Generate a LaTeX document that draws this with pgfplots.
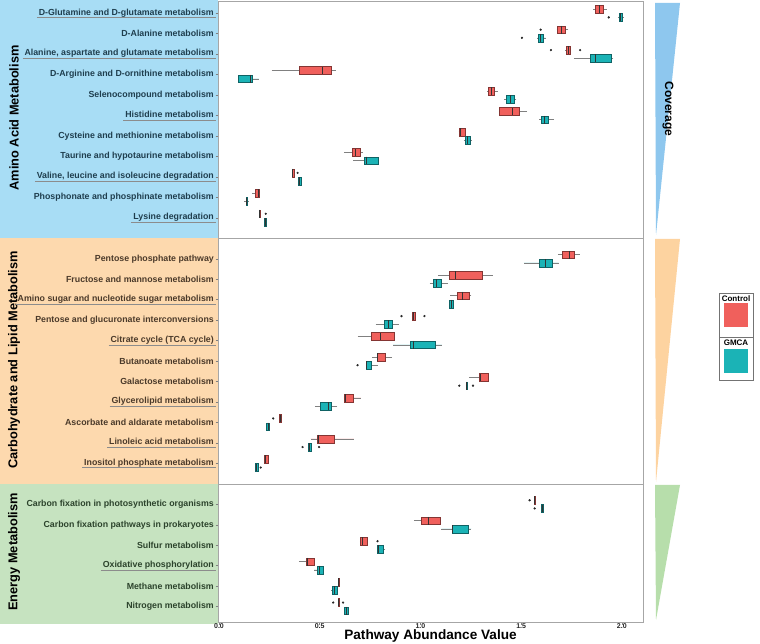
\documentclass[border=0pt]{standalone}
\usepackage{pgfplots}
\pgfplotsset{compat=1.18}
\usepgfplotslibrary{statistics}
\usepackage{fontspec}
\setmainfont{Liberation Sans}
\definecolor{ctrl}{HTML}{F0605C}
\definecolor{gmca}{HTML}{1BB3B6}
\definecolor{bgA}{HTML}{A8DDF5}
\definecolor{bgC}{HTML}{FDD9AE}
\definecolor{bgE}{HTML}{C6E3C0}
\definecolor{txA}{HTML}{1F3E4E}
\definecolor{txC}{HTML}{4B3A2A}
\definecolor{txE}{HTML}{2C432C}
\definecolor{covA}{HTML}{8EC7EE}
\definecolor{covC}{HTML}{FDD3A0}
\definecolor{covE}{HTML}{B7DEAB}
\newsavebox\ulbox
\newcommand{\ul}[1]{\sbox\ulbox{#1}\rlap{\hspace{-2pt}\textcolor{black!45}{\rule[-2.8pt]{\dimexpr\wd\ulbox+4pt\relax}{0.6pt}}}\usebox\ulbox}
\newcommand{\A}[1]{\textcolor{txA}{#1}}
\newcommand{\C}[1]{\textcolor{txC}{#1}}
\newcommand{\E}[1]{\textcolor{txE}{#1}}
\pgfplotsset{
  cstyle/.style={fill=ctrl, draw=ctrl!55!black, line width=0.4pt},
  gstyle/.style={fill=gmca, draw=gmca!55!black, line width=0.4pt},
  boxplot/draw direction=x,
  boxplot/box extend=0.38,
  boxplot/whisker extend=0,
  boxplot/every whisker/.style={draw=black!50, line width=0.5pt},
  boxplot/every median/.style={draw=black!80, line width=0.9pt},
}
% style, position, lower whisker, lower quartile, median, upper quartile, upper whisker
\newcommand{\bx}[7]{\addplot[#1, boxplot prepared={draw position=#2, lower whisker=#3, lower quartile=#4, median=#5, upper quartile=#6, upper whisker=#7}] coordinates {};}
\begin{document}
\begin{tikzpicture}
\path[use as bounding box] (0pt,0pt) rectangle (760pt,644pt);
\begin{scope}[x=1pt,y=1pt]
\fill[bgA] (0,644) rectangle (218,405.7);
\fill[bgC] (0,405.7) rectangle (218,160.1);
\fill[bgE] (0,160.1) rectangle (218,20);
\node[rotate=90, font=\bfseries\fontsize{12.8}{14}\selectfont] at (14,526) {Amino Acid Metabolism};
\node[rotate=90, font=\bfseries\fontsize{12.8}{14}\selectfont] at (14,284) {Carbohydrate and Lipid Metabolism};
\node[rotate=90, font=\bfseries\fontsize{12.8}{14}\selectfont] at (14,92) {Energy Metabolism};
\end{scope}
\begin{axis}[
  at={(218pt,22pt)}, anchor=south west,
  width=425pt, height=621pt, scale only axis,
  xmin=-0.005, xmax=2.105, ymin=0.4, ymax=30.75, y dir=reverse,
  clip=false,
  axis line style={draw=black!35, line width=0.6pt},
  xtick={0,0.5,1,1.5,2}, xticklabels={0.0,0.5,1.0,1.5,2.0},
  xticklabel style={font=\bfseries\fontsize{7}{8}\selectfont, text=black!85, yshift=4.5pt},
  ytick={1,2,3,4,5,6,7,8,9,10,11,13,14,15,16,17,18,19,20,21,22,23,25,26,27,28,29,30},
  yticklabels={
    {\A{\ul{D-Glutamine and D-glutamate metabolism}}},
    {\A{D-Alanine metabolism}},
    {\A{\ul{Alanine, aspartate and glutamate metabolism}}},
    {\A{D-Arginine and D-ornithine metabolism}},
    {\A{Selenocompound metabolism}},
    {\A{\ul{Histidine metabolism}}},
    {\A{Cysteine and methionine metabolism}},
    {\A{Taurine and hypotaurine metabolism}},
    {\A{\ul{Valine, leucine and isoleucine degradation}}},
    {\A{Phosphonate and phosphinate metabolism}},
    {\A{\ul{Lysine degradation}}},
    {\C{Pentose phosphate pathway}},
    {\C{Fructose and mannose metabolism}},
    {\C{\ul{Amino sugar and nucleotide sugar metabolism}}},
    {\C{Pentose and glucuronate interconversions}},
    {\C{\ul{Citrate cycle (TCA cycle)}}},
    {\C{Butanoate metabolism}},
    {\C{Galactose metabolism}},
    {\C{\ul{Glycerolipid metabolism}}},
    {\C{Ascorbate and aldarate metabolism}},
    {\C{\ul{Linoleic acid metabolism}}},
    {\C{\ul{Inositol phosphate metabolism}}},
    {\E{Carbon fixation in photosynthetic organisms}},
    {\E{Carbon fixation pathways in prokaryotes}},
    {\E{Sulfur metabolism}},
    {\E{\ul{Oxidative phosphorylation}}},
    {\E{Methane metabolism}},
    {\E{Nitrogen metabolism}}},
  yticklabel style={font=\bfseries\fontsize{8.8}{10}\selectfont, inner sep=1.5pt},
  tick align=outside, major tick length=2.5pt,
  tick style={draw=black!50, line width=0.5pt},
  xtick pos=bottom, ytick pos=left,
  xlabel={Pathway Abundance Value},
  xlabel style={at={(axis description cs:0.5,0)}, anchor=north, yshift=-7pt, inner sep=0pt, font=\bfseries\fontsize{13.6}{15}\selectfont},
]
\draw[black!35, line width=0.6pt] (axis cs:-0.005,12) -- (axis cs:2.105,12);
\draw[black!35, line width=0.6pt] (axis cs:-0.005,24) -- (axis cs:2.105,24);
% Amino acid metabolism
\bx{cstyle}{0.8}{1.859}{1.869}{1.889}{1.909}{1.924}
\bx{gstyle}{1.2}{1.980}{1.985}{1.993}{2.003}{2.010}
\bx{cstyle}{1.8}{1.676}{1.681}{1.700}{1.721}{1.735}
\bx{gstyle}{2.2}{1.580}{1.583}{1.596}{1.611}{1.621}
\bx{cstyle}{2.8}{1.718}{1.722}{1.734}{1.744}{1.748}
\bx{gstyle}{3.2}{1.762}{1.843}{1.869}{1.945}{1.958}
\bx{cstyle}{3.8}{0.261}{0.398}{0.512}{0.559}{0.579}
\bx{gstyle}{4.2}{0.096}{0.096}{0.155}{0.164}{0.198}
\bx{cstyle}{4.8}{1.330}{1.334}{1.352}{1.367}{1.383}
\bx{gstyle}{5.2}{1.414}{1.425}{1.446}{1.466}{1.476}
\bx{cstyle}{5.8}{1.390}{1.393}{1.459}{1.492}{1.530}
\bx{gstyle}{6.2}{1.591}{1.601}{1.616}{1.635}{1.664}
\bx{cstyle}{6.8}{1.190}{1.193}{1.200}{1.221}{1.225}
\bx{gstyle}{7.2}{1.215}{1.222}{1.232}{1.245}{1.255}
\bx{cstyle}{7.8}{0.620}{0.663}{0.679}{0.702}{0.716}
\bx{gstyle}{8.2}{0.666}{0.719}{0.732}{0.790}{0.790}
\bx{cstyle}{8.8}{0.362}{0.362}{0.367}{0.372}{0.372}
\bx{gstyle}{9.2}{0.393}{0.393}{0.400}{0.408}{0.408}
\bx{cstyle}{9.8}{0.165}{0.182}{0.196}{0.200}{0.200}
\bx{gstyle}{10.2}{0.125}{0.133}{0.137}{0.141}{0.149}
\bx{cstyle}{10.8}{0.200}{0.200}{0.203}{0.206}{0.206}
\bx{gstyle}{11.2}{0.226}{0.226}{0.230}{0.234}{0.234}
% Carbohydrate and lipid metabolism
\bx{cstyle}{12.8}{1.682}{1.702}{1.742}{1.762}{1.791}
\bx{gstyle}{13.2}{1.514}{1.591}{1.620}{1.656}{1.686}
\bx{cstyle}{13.8}{1.087}{1.145}{1.173}{1.305}{1.360}
\bx{gstyle}{14.2}{1.046}{1.063}{1.082}{1.104}{1.137}
\bx{cstyle}{14.8}{1.149}{1.181}{1.208}{1.241}{1.253}
\bx{gstyle}{15.2}{1.145}{1.145}{1.153}{1.162}{1.162}
\bx{cstyle}{15.8}{0.957}{0.957}{0.965}{0.973}{0.973}
\bx{gstyle}{16.2}{0.778}{0.818}{0.839}{0.859}{0.894}
\bx{cstyle}{16.8}{0.688}{0.754}{0.803}{0.869}{0.869}
\bx{gstyle}{17.2}{0.864}{0.947}{0.963}{1.074}{1.107}
\bx{cstyle}{17.8}{0.762}{0.783}{0.787}{0.826}{0.859}
\bx{gstyle}{18.2}{0.729}{0.729}{0.734}{0.757}{0.790}
\bx{cstyle}{18.8}{1.241}{1.294}{1.300}{1.337}{1.337}
\bx{gstyle}{19.2}{1.226}{1.226}{1.228}{1.232}{1.232}
\bx{cstyle}{19.8}{0.620}{0.620}{0.627}{0.666}{0.704}
\bx{gstyle}{20.2}{0.476}{0.504}{0.542}{0.555}{0.588}
\bx{cstyle}{20.8}{0.300}{0.300}{0.304}{0.308}{0.308}
\bx{gstyle}{21.2}{0.236}{0.236}{0.243}{0.249}{0.249}
\bx{cstyle}{21.8}{0.455}{0.487}{0.496}{0.570}{0.669}
\bx{gstyle}{22.2}{0.441}{0.441}{0.447}{0.456}{0.456}
\bx{cstyle}{22.8}{0.223}{0.223}{0.233}{0.243}{0.243}
\bx{gstyle}{23.2}{0.178}{0.178}{0.186}{0.193}{0.193}
% Energy metabolism
\bx{cstyle}{24.8}{1.563}{1.563}{1.567}{1.571}{1.571}
\bx{gstyle}{25.2}{1.601}{1.601}{1.605}{1.609}{1.609}
\bx{cstyle}{25.8}{0.968}{1.005}{1.041}{1.097}{1.097}
\bx{gstyle}{26.2}{1.104}{1.157}{1.160}{1.238}{1.253}
\bx{cstyle}{26.8}{0.699}{0.699}{0.712}{0.735}{0.735}
\bx{gstyle}{27.2}{0.787}{0.787}{0.792}{0.815}{0.826}
\bx{cstyle}{27.8}{0.397}{0.431}{0.438}{0.471}{0.471}
\bx{gstyle}{28.2}{0.472}{0.489}{0.501}{0.517}{0.522}
\bx{cstyle}{28.8}{0.591}{0.591}{0.595}{0.599}{0.599}
\bx{gstyle}{29.2}{0.555}{0.562}{0.572}{0.587}{0.590}
\bx{cstyle}{29.8}{0.591}{0.591}{0.595}{0.599}{0.599}
\bx{gstyle}{30.2}{0.621}{0.621}{0.633}{0.641}{0.641}
% outliers
\addplot[only marks, mark=*, mark size=0.9pt, draw=black!85, fill=black!85] coordinates {
 (1.935,1.2) (1.597,1.8) (1.504,2.2) (1.648,2.8) (1.793,2.8) (0.390,8.8) (0.232,10.8)
 (0.906,15.8) (1.020,15.8) (0.688,18.2) (1.193,19.2) (1.261,19.2) (0.269,20.8)
 (0.415,22.2) (0.497,22.2) (0.207,23.2) (1.542,24.8) (1.567,25.2) (0.787,26.8)
 (0.567,29.8) (0.616,29.8)};
\end{axis}
\begin{scope}[x=1pt,y=1pt]
% coverage strips
\fill[covA] (655,641) -- (680,641) -- (656,409) -- cycle;
\fill[covC] (655,405) -- (680,405) -- (656,162) -- cycle;
\fill[covE] (655,159) -- (680,159) -- (656,24) -- cycle;
\node[rotate=-90, font=\bfseries\fontsize{12}{14}\selectfont] at (668,535) {Coverage};
% legend
\draw[black!55, line width=0.5pt, fill=white] (719,351) rectangle (753,264);
\draw[black!55, line width=0.5pt] (719,307) -- (753,307);
\node[font=\bfseries\fontsize{8}{9}\selectfont] at (736,345.5) {Control};
\fill[ctrl] (724,341) rectangle (748,317);
\node[font=\bfseries\fontsize{8}{9}\selectfont] at (736,301.5) {GMCA};
\fill[gmca] (724,295) rectangle (748,271);
\end{scope}
\end{tikzpicture}
\end{document}
